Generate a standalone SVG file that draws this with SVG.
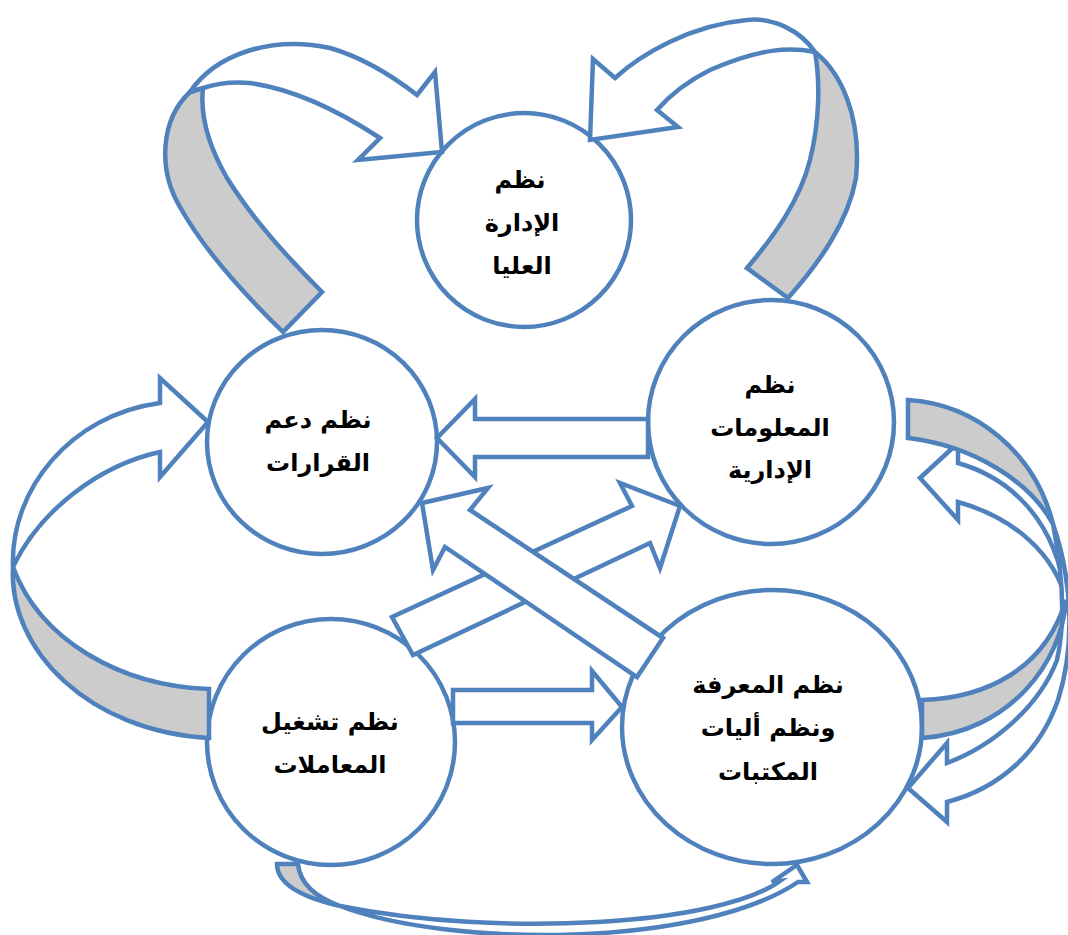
<svg xmlns="http://www.w3.org/2000/svg" width="1068" height="935" viewBox="0 0 1068 935">
<style>
.c{fill:#ffffff;stroke:#4f81bd;stroke-width:4.5}
.a{fill:#ffffff;stroke:#4f81bd;stroke-width:4.5;stroke-linejoin:miter}
.g{fill:#cccccc;stroke:#4f81bd;stroke-width:4.5;stroke-linejoin:miter}
.t{font-family:"DejaVu Sans","Liberation Sans",sans-serif;font-weight:bold;font-size:24px;fill:#000000;text-anchor:middle}
</style>
<rect width="1068" height="935" fill="#ffffff"/>
<g id="nodes">
<g id="top-management">
<ellipse class="c" cx="524" cy="220" rx="107" ry="107"/>
<text class="t" x="520" y="188">نظم</text>
<text class="t" x="522" y="231">الإدارة</text>
<text class="t" x="522" y="274">العليا</text>
</g>
<g id="decision-support">
<ellipse class="c" cx="322" cy="442" rx="115" ry="112"/>
<text class="t" x="318" y="428">نظم دعم</text>
<text class="t" x="318" y="471">القرارات</text>
</g>
<g id="mis">
<ellipse class="c" cx="771" cy="422" rx="123" ry="122"/>
<text class="t" x="770" y="393">نظم</text>
<text class="t" x="770" y="436">المعلومات</text>
<text class="t" x="770" y="478">الإدارية</text>
</g>
<g id="transactions">
<ellipse class="c" cx="331" cy="742" rx="124" ry="123"/>
<text class="t" x="330" y="730">نظم تشغيل</text>
<text class="t" x="330" y="773">المعاملات</text>
</g>
<g id="knowledge">
<ellipse class="c" cx="772" cy="727" rx="150" ry="137"/>
<text class="t" x="768" y="693">نظم المعرفة</text>
<text class="t" x="768" y="736">ونظم أليات</text>
<text class="t" x="768" y="780">المكتبات</text>
</g>
</g>
<g id="connectors">
<polygon class="a" points="648,419 475,419 475,399 437,438 475,477 475,457 648,457"/>
<polygon class="a" points="453,690 592,690 592,671 622,707 592,740 592,723 453,723"/>
<polygon class="a" points="392,617 632,506 620,483 680,506 660,568 650,543 413,655"/>
<polygon class="a" points="422,503 488,488 470,510 663,638 637,677 445,547 433,570"/>
<path class="g" d="M190,92 C160,120 158,170 180,207 C205,252 245,295 283,332 L322,292 C285,255 250,215 227,178 C208,145 200,115 203,88 Z"/>
<path class="a" d="M190,92 C215,55 270,35 330,48 C365,58 395,78 417,95 L435,72 L442,152 L358,160 L380,138 C345,115 300,90 250,83 C230,81 215,84 203,88 Z"/>
<path class="g" d="M815,52 C840,72 862,115 856,178 C848,222 820,262 788,298 L747,268 C775,235 800,200 810,160 C820,120 820,80 815,52 Z"/>
<path class="a" d="M590,140 L593,59 L615,78 C640,55 690,25 747,20 C772,17 800,30 815,52 C790,47 760,48 710,70 C690,80 670,95 657,110 L678,127 Z"/>
<path class="g" d="M13,567 C8,650 90,732 209,738 L209,689 C120,686 40,640 13,567 Z"/>
<path class="a" d="M13,567 C10,490 70,415 160,403 L160,378 L208,422 L160,477 L160,452 C100,465 40,510 13,567 Z"/>
<path class="a" d="M958,463 C1010,478 1057,520 1066,600 C1055,555 1015,518 958,502 L958,520 L920,478 L958,443 Z"/>
<path class="g" d="M908,400 C975,404 1035,452 1053,524 C1030,482 975,446 908,438 Z"/>
<path class="a" d="M1053,524 C1074,585 1074,650 1058,700 C1040,752 1000,788 947,802 L947,822 L908,788 L947,743 L947,763 C995,745 1040,705 1057,660 C1066,620 1062,570 1053,524 Z"/>
<path class="g" d="M922,700 C985,698 1045,670 1066,600 C1062,662 1010,732 922,738 Z"/>
<path class="a" d="M340,906 C450,948 700,948 798,882 L807,882 L797,865 L772,882 L780,881 C720,925 500,938 340,906 Z"/>
<path class="g" d="M277,864 L298,864 C300,885 318,898 340,906 C305,898 277,885 277,864 Z"/>
</g>
</svg>
